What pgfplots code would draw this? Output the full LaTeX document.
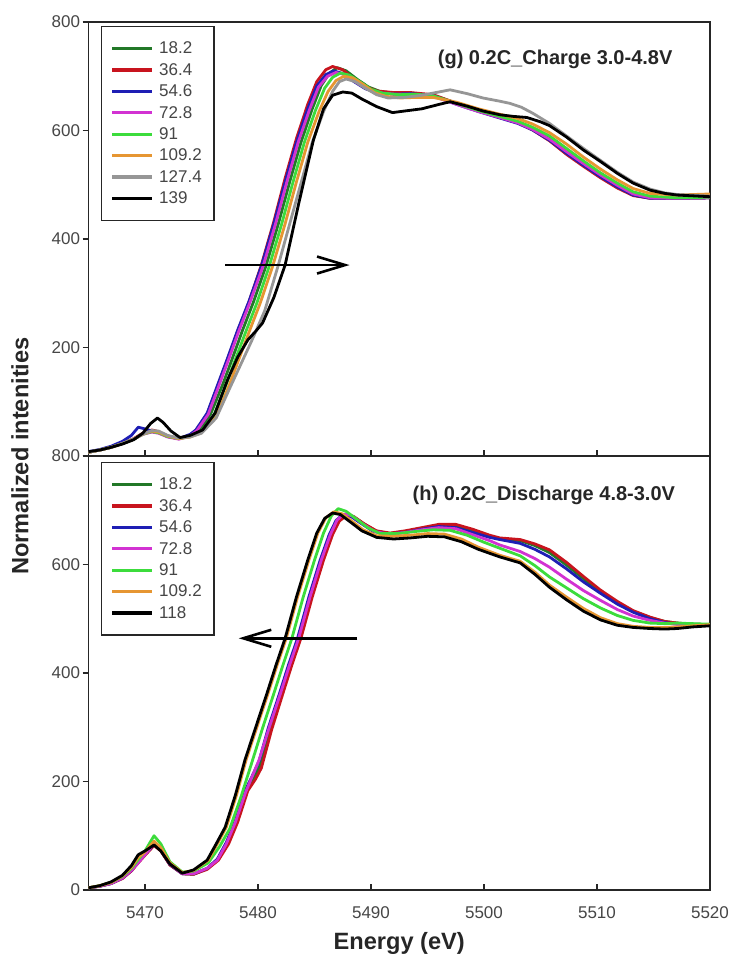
\documentclass[border=0pt]{standalone}
\usepackage{fontspec}
\setmainfont{Liberation Sans}
\usepackage{pgfplots}
\pgfplotsset{compat=1.18}
\usetikzlibrary{arrows.meta}
\definecolor{cDG}{RGB}{34,120,40}
\definecolor{cR}{RGB}{200,20,30}
\definecolor{cB}{RGB}{30,30,180}
\definecolor{cM}{RGB}{210,50,210}
\definecolor{cG}{RGB}{60,220,60}
\definecolor{cO}{RGB}{230,150,50}
\definecolor{cGr}{RGB}{150,150,150}
\definecolor{txt}{RGB}{70,70,70}
\pgfplotsset{
  panel/.style={
    scale only axis, width=310.75pt, height=217pt, anchor=south west,
    xmin=5465, xmax=5520, ymin=0, ymax=800,
    xtick={5470,5480,...,5520}, ytick={0,200,...,800},
    xtick pos=bottom, ytick pos=left,
    xtick align=inside, ytick align=outside,
    major tick length=3pt,
    tick style={line width=0.8pt, black!85},
    axis line style={line width=0.9pt, black!85},
    /pgf/number format/assume math mode=true,
    /pgf/number format/1000 sep={},
    tick label style={font=\fontsize{8.5}{10}\selectfont, text=txt},
    yticklabel style={inner sep=1pt},
    xticklabel style={inner sep=0pt, yshift=-8pt},
    every axis plot/.append style={line width=1.4pt, line join=round},
    legend cell align=left,
    legend image code/.code={\draw[#1, line width=1.6pt] (0pt,0pt) -- (20pt,0pt);},
    legend style={font=\fontsize{8.5}{10}\selectfont, text=txt,
      draw=black!85, line width=0.7pt, inner xsep=4.5pt, inner ysep=5.6pt,
      row sep=0pt, column sep=1pt,
      nodes={inner sep=1.7pt, text height=6.3pt, text depth=1pt},
      anchor=north west},
  }
}
\begin{document}
\begin{tikzpicture}
\useasboundingbox (0pt,0pt) rectangle (366pt,483pt);
% ---------------- top panel (g) ----------------
\begin{axis}[panel, at={(44.25pt,255pt)}, xticklabels={},
  yticklabels={,200,400,600,800},
  legend style={at={(0.02,0.991)}},
  legend entries={18.2,36.4,54.6,72.8,91,109.2,127.4,139}]
\addplot[cDG] coordinates {(5465,7) (5466,11) (5467,16) (5468,23) (5469,31) (5469.8,41) (5470.6,46) (5471.2,44) (5472,36) (5473,32) (5474,37) (5474.8,47) (5475.8,77) (5476.9,133) (5477.7,178) (5478.6,230) (5479.6,284) (5480.7,350) (5481.8,428) (5482.8,505) (5483.8,578) (5484.8,640) (5485.6,683) (5486.3,705) (5487,716) (5487.8,710) (5488.8,694) (5489.8,680) (5490.8,672) (5492,669) (5493.5,669) (5495.5,665) (5497.6,650) (5499.5,636) (5501.4,625) (5503,615) (5504.3,603) (5505.8,585) (5507.3,562) (5508.8,540) (5510.3,519) (5511.8,500) (5513.2,484) (5514.7,477) (5517,475) (5520,476)};
\addplot[cR] coordinates {(5465,7) (5466,11) (5467,16) (5468,23) (5469,32) (5469.8,42) (5470.6,48) (5471.2,45) (5472,37) (5473,32) (5474,39) (5474.5,47) (5475.5,77) (5476.5,133) (5477.3,178) (5478.2,230) (5479.2,284) (5480.3,352) (5481.4,432) (5482.4,512) (5483.4,585) (5484.4,648) (5485.2,690) (5486,712) (5486.6,718) (5487.5,712) (5488.5,695) (5489.5,681) (5490.5,673) (5492,670) (5493.5,670) (5495.5,666) (5497.6,650) (5499.5,636) (5501.4,624) (5503,614) (5504.3,601) (5505.8,581) (5507.3,556) (5508.8,534) (5510.3,513) (5511.8,494) (5513.2,480) (5514.7,475) (5517,475) (5520,476)};
\addplot[cB] coordinates {(5465,8) (5466,12) (5467,18) (5468,27) (5468.8,38) (5469.4,53) (5470,50) (5470.6,46) (5471.2,43) (5472,36) (5473,32) (5474,40) (5474.5,48) (5475.5,79) (5476.5,135) (5477.3,180) (5478.2,232) (5479.2,285) (5480.3,350) (5481.4,428) (5482.4,505) (5483.4,578) (5484.4,640) (5485.2,682) (5486,703) (5486.7,710) (5487.5,705) (5488.5,690) (5489.5,677) (5490.5,670) (5492,667) (5493.5,668) (5495.5,664) (5497.6,648) (5499.5,635) (5501.4,623) (5503,613) (5504.3,601) (5505.8,582) (5507.3,558) (5508.8,536) (5510.3,515) (5511.8,496) (5513.2,481) (5514.7,475) (5517,475) (5520,476)};
\addplot[cM] coordinates {(5465,7) (5466,11) (5467,16) (5468,23) (5469,31) (5469.8,40) (5470.6,44) (5471.2,42) (5472,35) (5473,31) (5474,37) (5474.6,47) (5475.6,77) (5476.6,133) (5477.4,178) (5478.3,230) (5479.3,284) (5480.45,350) (5481.55,428) (5482.55,505) (5483.55,578) (5484.55,638) (5485.35,680) (5486.15,700) (5486.9,707) (5487.7,703) (5488.6,690) (5489.6,677) (5490.5,670) (5492,667) (5493.5,667) (5495.5,663) (5497.6,648) (5499.5,635) (5501.4,624) (5503,614) (5504.3,602) (5505.8,584) (5507.3,561) (5508.8,539) (5510.3,518) (5511.8,499) (5513.2,483) (5514.7,476) (5517,475) (5520,476)};
\addplot[cG] coordinates {(5465,7) (5466,11) (5467,16) (5468,23) (5469,31) (5469.8,40) (5470.6,45) (5471.2,43) (5472,36) (5473,32) (5474,36) (5475,45) (5476.1,75) (5477.2,133) (5478,178) (5478.9,228) (5479.9,282) (5481,350) (5482.1,428) (5483.1,505) (5484.1,578) (5485.1,638) (5485.9,678) (5486.6,698) (5487.3,706) (5488.1,702) (5489,690) (5490,676) (5491,669) (5492.5,666) (5494,667) (5495.5,664) (5497.6,650) (5499.5,637) (5501.4,626) (5503,617) (5504.3,606) (5505.8,590) (5507.3,567) (5508.8,544) (5510.3,522) (5511.8,503) (5513.2,487) (5514.7,479) (5517,476) (5520,477)};
\addplot[cO] coordinates {(5465,7) (5466,11) (5467,16) (5468,23) (5469,31) (5469.8,40) (5470.6,46) (5471.2,44) (5472,37) (5473,32) (5474,35) (5475,43) (5476.3,72) (5477.5,133) (5478.3,178) (5479.2,228) (5480.2,282) (5481.3,350) (5482.4,428) (5483.4,505) (5484.4,578) (5485.4,635) (5486.2,672) (5486.9,692) (5487.6,700) (5488.4,697) (5489.3,685) (5490.3,670) (5491.3,663) (5492.6,660) (5494,661) (5495.5,661) (5497.6,652) (5499.5,640) (5501.4,630) (5503,622) (5504.3,612) (5505.8,596) (5507.3,575) (5508.8,551) (5510.3,529) (5511.8,509) (5513.2,493) (5514.7,484) (5517,481) (5520,483)};
\addplot[cGr] coordinates {(5465,7) (5466,11) (5467,16) (5468,23) (5469,31) (5469.8,40) (5470.6,47) (5471.2,46) (5472,38) (5473,33) (5474,35) (5475,42) (5476.3,70) (5477.5,125) (5478.5,170) (5479.5,215) (5480.6,268) (5481.8,352) (5482.9,435) (5483.9,510) (5484.8,578) (5485.8,635) (5486.6,672) (5487.2,690) (5487.8,695) (5488.6,690) (5489.5,678) (5490.5,666) (5491.5,660) (5493,661) (5494.5,665) (5496,671) (5497,675) (5498.5,668) (5499.9,660) (5501.4,654) (5502.3,650) (5503.3,643) (5504.3,632) (5505.8,613) (5507.3,590) (5508.8,567) (5510.3,545) (5511.8,523) (5513.2,505) (5514.7,492) (5516,485) (5517.1,482) (5520,479)};
\addplot[black] coordinates {(5465,8) (5466,11) (5467,16) (5468,22) (5469,30) (5469.8,42) (5470.5,60) (5471.1,70) (5471.6,62) (5472.3,46) (5473.1,34) (5474,38) (5475.1,48) (5476.2,79) (5477.3,140) (5478.2,182) (5479.1,214) (5479.8,230) (5480.4,245) (5481.4,292) (5482.4,352) (5483.6,465) (5484.9,582) (5485.8,640) (5486.6,665) (5487.5,671) (5488.3,669) (5489.2,658) (5490.5,644) (5491.9,633) (5493,636) (5494.5,640) (5496,648) (5497,653) (5498.5,645) (5499.9,636) (5501.4,629) (5502.6,626) (5503.8,624) (5505,616) (5505.8,609) (5507.3,588) (5508.8,564) (5510.3,543) (5511.8,521) (5513.2,503) (5514.7,490) (5516,484) (5517.1,481) (5520,478)};
\draw[line width=1.3pt, -{Straight Barb[length=14pt,width=8.5pt,line width=1.3pt]}] (axis cs:5477.1,352) -- (axis cs:5488.1,352);
\node[anchor=base, font=\fontsize{10}{12}\selectfont\bfseries, text=black!85] at (axis cs:5506.3,721) {(g) 0.2C\_Charge 3.0-4.8V};
\end{axis}
% ---------------- bottom panel (h) ----------------
\begin{axis}[panel, at={(44.25pt,38pt)},
  xlabel={Energy (eV)},
  xlabel style={at={(axis description cs:0.5,0)}, anchor=center, yshift=-26.5pt, font=\fontsize{11.8}{14}\selectfont\bfseries, text=black!85},
  legend style={at={(0.02,0.986)}},
  legend entries={18.2,36.4,54.6,72.8,91,109.2,118}]
\addplot[cDG] coordinates {(5465,4) (5466,7) (5467,12) (5468,22) (5468.8,36) (5469.4,51) (5470,65) (5470.8,83) (5471.4,73) (5472.2,47) (5473.3,30) (5474.3,29) (5475.5,39) (5476.4,56) (5477.3,87) (5478.1,127) (5479,184) (5479.7,208) (5480.2,230) (5481.1,297) (5482.1,362) (5482.9,415) (5483.7,464) (5484.7,540) (5485.7,608) (5486.5,655) (5487.1,681) (5487.7,692) (5488.4,689) (5489.3,676) (5490.4,662) (5491.6,657) (5493,661) (5494.5,667) (5496,672) (5497.5,672) (5499,663) (5500.5,652) (5501.4,648) (5503.2,644) (5504.5,635) (5505.8,622) (5507.3,599) (5508.8,574) (5510.3,550) (5511.8,530) (5513.2,514) (5514.7,502) (5516,495) (5517.1,492) (5518.5,490) (5520,489)};
\addplot[cR] coordinates {(5465,4) (5466,7) (5467,12) (5468,21) (5468.8,35) (5469.4,50) (5470,64) (5470.8,82) (5471.4,72) (5472.2,46) (5473.3,30) (5474.3,29) (5475.5,38) (5476.5,55) (5477.4,85) (5478.2,125) (5479.1,183) (5479.8,205) (5480.3,225) (5481.2,295) (5482.2,362) (5483,415) (5483.8,464) (5484.8,540) (5485.8,608) (5486.6,655) (5487.2,680) (5487.8,690) (5488.5,688) (5489.4,675) (5490.5,662) (5491.7,658) (5493,662) (5494.5,668) (5496,674) (5497.5,674) (5499,665) (5500.5,654) (5501.4,649) (5503.2,646) (5504.5,638) (5505.8,627) (5507.3,604) (5508.8,578) (5510.3,553) (5511.8,532) (5513.2,515) (5514.7,503) (5516,495) (5517.1,492) (5518.5,490) (5520,489)};
\addplot[cB] coordinates {(5465,4) (5466,7) (5467,12) (5468,22) (5468.8,36) (5469.4,52) (5470,66) (5470.8,84) (5471.4,74) (5472.2,47) (5473.3,30) (5474.3,30) (5475.5,40) (5476.4,57) (5477.2,88) (5478,128) (5478.9,185) (5479.6,215) (5480.1,238) (5480.9,298) (5481.9,362) (5482.7,415) (5483.5,464) (5484.5,540) (5485.5,608) (5486.3,655) (5486.9,681) (5487.5,692) (5488.2,689) (5489.1,676) (5490.2,661) (5491.5,656) (5493,659) (5494.5,665) (5496,670) (5497.5,668) (5499,659) (5500.5,650) (5501.4,646) (5503.2,639) (5504.5,628) (5505.8,614) (5507.3,592) (5508.8,568) (5510.3,547) (5511.8,527) (5513.2,512) (5514.7,500) (5516,493) (5517.1,490) (5518.5,488) (5520,488)};
\addplot[cM] coordinates {(5465,4) (5466,7) (5467,12) (5468,22) (5468.8,36) (5469.4,50) (5470,65) (5470.8,85) (5471.4,75) (5472.2,48) (5473.3,30) (5474.3,30) (5475.5,40) (5476.4,55) (5477.2,85) (5478,125) (5478.9,180) (5479.6,215) (5480.1,240) (5481,300) (5482,363) (5482.8,415) (5483.6,464) (5484.6,540) (5485.6,608) (5486.4,655) (5487,682) (5487.6,693) (5488.3,690) (5489.2,676) (5490.3,661) (5491.5,656) (5493,659) (5494.5,664) (5496,668) (5497.5,666) (5499,655) (5500.5,644) (5501.4,636) (5503.2,624) (5504.5,611) (5505.8,595) (5507.3,573) (5508.8,552) (5510.3,534) (5511.8,517) (5513.2,505) (5514.7,497) (5516,492) (5517.1,490) (5518.5,488) (5520,488)};
\addplot[cG] coordinates {(5465,4) (5466,8) (5467,14) (5468,25) (5468.8,40) (5469.4,56) (5470,72) (5470.8,100) (5471.4,85) (5472.2,52) (5473.3,33) (5474.3,35) (5475.6,50) (5476.6,80) (5477.5,113) (5478.5,172) (5479.5,238) (5480.4,298) (5481.4,362) (5482.2,414) (5483,464) (5484,540) (5485,608) (5485.8,658) (5486.5,690) (5487.1,703) (5487.8,698) (5488.7,684) (5489.7,668) (5490.8,657) (5492.3,657) (5494,661) (5495.5,664) (5497,663) (5498.5,654) (5500,641) (5501.4,630) (5503.2,616) (5504.5,598) (5505.8,577) (5507.3,557) (5508.8,537) (5510.3,520) (5511.8,506) (5513.2,497) (5514.7,492) (5516,491) (5517.1,492) (5518.5,491) (5520,490)};
\addplot[cO] coordinates {(5465,4) (5466,8) (5467,14) (5468,26) (5468.8,42) (5469.4,60) (5470,70) (5470.8,90) (5471.4,78) (5472.2,50) (5473.3,32) (5474.3,36) (5475.6,55) (5476.4,85) (5477.2,116) (5478.1,175) (5478.95,240) (5479.9,300) (5480.9,363) (5481.7,415) (5482.5,464) (5483.5,540) (5484.5,608) (5485.3,658) (5486,686) (5486.7,697) (5487.4,694) (5488.3,680) (5489.3,664) (5490.5,653) (5492,652) (5493.5,654) (5495,657) (5496.5,656) (5498,647) (5499.5,632) (5501.4,617) (5503.2,606) (5504.5,586) (5505.8,562) (5507.3,540) (5508.8,519) (5510.3,502) (5511.8,491) (5513.2,486) (5514.7,484) (5516,484) (5517.1,485) (5518.5,487) (5520,489)};
\addplot[black] coordinates {(5465,4) (5466,8) (5467,15) (5468,27) (5468.8,45) (5469.4,65) (5470,72) (5470.8,83) (5471.4,72) (5472.2,48) (5473.3,31) (5474.3,37) (5475.5,55) (5476.3,85) (5477.1,116) (5478,175) (5478.85,240) (5479.8,300) (5480.8,363) (5481.6,415) (5482.4,464) (5483.4,540) (5484.4,608) (5485.2,658) (5485.9,685) (5486.6,695) (5487.3,692) (5488.2,678) (5489.2,662) (5490.5,650) (5492,647) (5493.5,649) (5495,652) (5496.5,651) (5498,642) (5499.5,628) (5501.4,614) (5503.2,603) (5504.5,582) (5505.8,558) (5507.3,535) (5508.8,514) (5510.3,498) (5511.8,488) (5513.2,484) (5514.7,482) (5516,481) (5517.1,482) (5518.5,485) (5520,487)};
\draw[line width=1.3pt, -{Straight Barb[length=14pt,width=8.5pt,line width=1.3pt]}] (axis cs:5488.8,464) -- (axis cs:5478.3,464);
\node[anchor=base, font=\fontsize{10}{12}\selectfont\bfseries, text=black!85] at (axis cs:5505.3,717.5) {(h) 0.2C\_Discharge 4.8-3.0V};
\end{axis}
\node[rotate=90, font=\fontsize{11.8}{14}\selectfont\bfseries, text=black!85] at (10pt,255pt) {Normalized intenities};
\end{tikzpicture}
\end{document}
